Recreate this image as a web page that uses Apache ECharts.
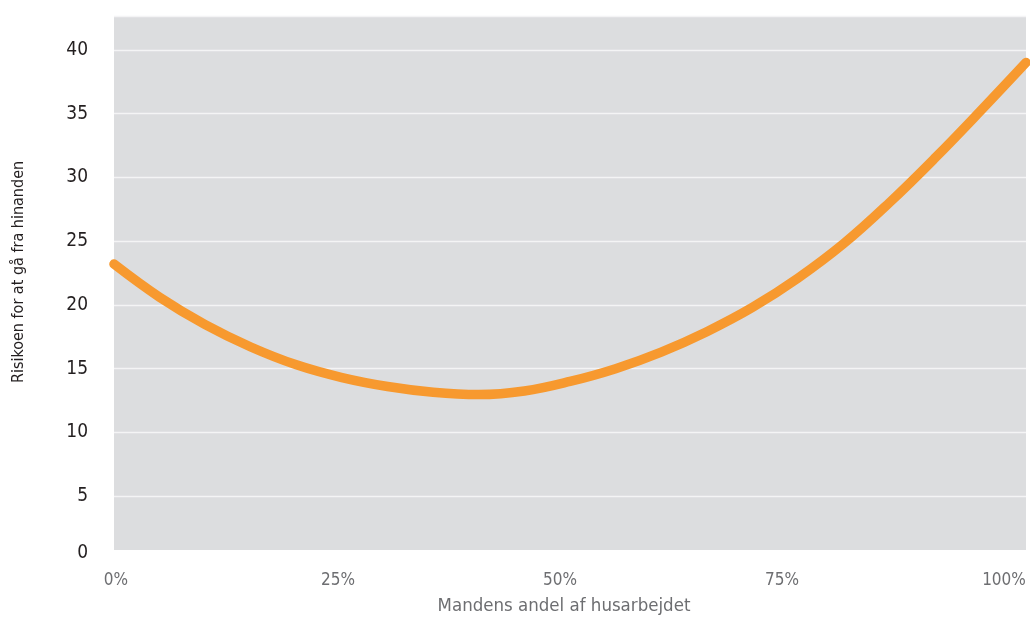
<!DOCTYPE html>
<html><head><meta charset="utf-8">
<script src="https://cdn.jsdelivr.net/npm/echarts@6/dist/echarts.min.js"></script>
<style>html,body{margin:0;padding:0;background:#fff}#c{width:1030px;height:619px}</style>
</head><body><div id="c"></div>
<script>
// Data
const shares = [0,5,10,15,20,25,30,35,40,45,50,55,60,65,70,75,80,85,90,95,100];
const risk = [23.2,20.6,18.45,16.7,15.3,14.3,13.6,13.15,12.97,13.25,14.0,15.0,16.3,17.9,19.8,22.1,24.8,28.0,31.5,35.2,39.0];
const xTickValues = [0,25,50,75,100];
const xTickLabels = ['0%','25%','50%','75%','100%'];
const yTickValues = [0,5,10,15,20,25,30,35,40];
const xTitle = 'Mandens andel af husarbejdet';
const yTitle = 'Risikoen for at gå fra hinanden';

const FONT = '"DejaVu Sans Condensed", "Liberation Sans Narrow", sans-serif';
const chart = echarts.init(document.getElementById('c'), null, {renderer: 'canvas'});
chart.setOption({
  animation: false,
  backgroundColor: '#ffffff',
  grid: [
    {left: 114, right: 4, top: 16, bottom: 59, show: true, backgroundColor: '#dcdddf', borderWidth: 0,
     containLabel: false, outerBoundsMode: 'none'},
    {left: 116, right: 26, top: 16, bottom: 59, show: false, containLabel: false, outerBoundsMode: 'none'}
  ],
  xAxis: [
    {type: 'value', gridIndex: 0, min: 0, max: 100, interval: 25,
     axisLine: {show: false}, axisTick: {show: false}, splitLine: {show: false},
     axisLabel: {show: false},
     name: xTitle, nameLocation: 'middle', nameGap: 37,
     nameTextStyle: {fontFamily: FONT, fontSize: 18.5, color: '#6d6e71', padding: [0, 12, 0, 0]}},
    {type: 'value', gridIndex: 1, min: 0, max: 100, interval: 25,
     axisLine: {show: false}, axisTick: {show: false}, splitLine: {show: false},
     axisLabel: {show: true, margin: 12, fontFamily: FONT, fontSize: 17, color: '#6d6e71',
       formatter: v => { const i = xTickValues.indexOf(v); return i >= 0 ? xTickLabels[i] : ''; }}}
  ],
  yAxis: [
    {type: 'value', gridIndex: 0, min: 0, max: 42.65, interval: 5,
     axisLine: {show: false}, axisTick: {show: false},
     splitLine: {show: true, lineStyle: {color: '#f4f4f5', width: 1.3}},
     axisLabel: {margin: 26, fontFamily: FONT, fontSize: 19, color: '#231f20', showMaxLabel: false,
       formatter: v => yTickValues.indexOf(v) >= 0 ? (v === 0 ? '{z|0}' : String(v)) : '',
       rich: {z: {fontFamily: FONT, fontSize: 19, color: '#231f20', padding: [0,0,14,0]}}}},
    {type: 'value', gridIndex: 1, min: 0, max: 1, show: false}
  ],
  graphic: [
    {type: 'rect', z: 100, shape: {x: 112, y: 550, width: 916, height: 13}, style: {fill: '#ffffff'}, silent: true},
    {type: 'text', x: 19, y: 272, rotation: Math.PI / 2, z: 100,
     style: {text: yTitle, font: '16px ' + FONT, fill: '#231f20', textAlign: 'center', textVerticalAlign: 'middle'}}
  ],
  series: [{
    type: 'line', xAxisIndex: 0, yAxisIndex: 0,
    data: shares.map((s, i) => [s, risk[i]]),
    smooth: 0.4, showSymbol: false, symbol: 'none',
    lineStyle: {color: '#f7992f', width: 9.5, cap: 'round', join: 'round'},
    z: 5
  }]
});
</script></body></html>
